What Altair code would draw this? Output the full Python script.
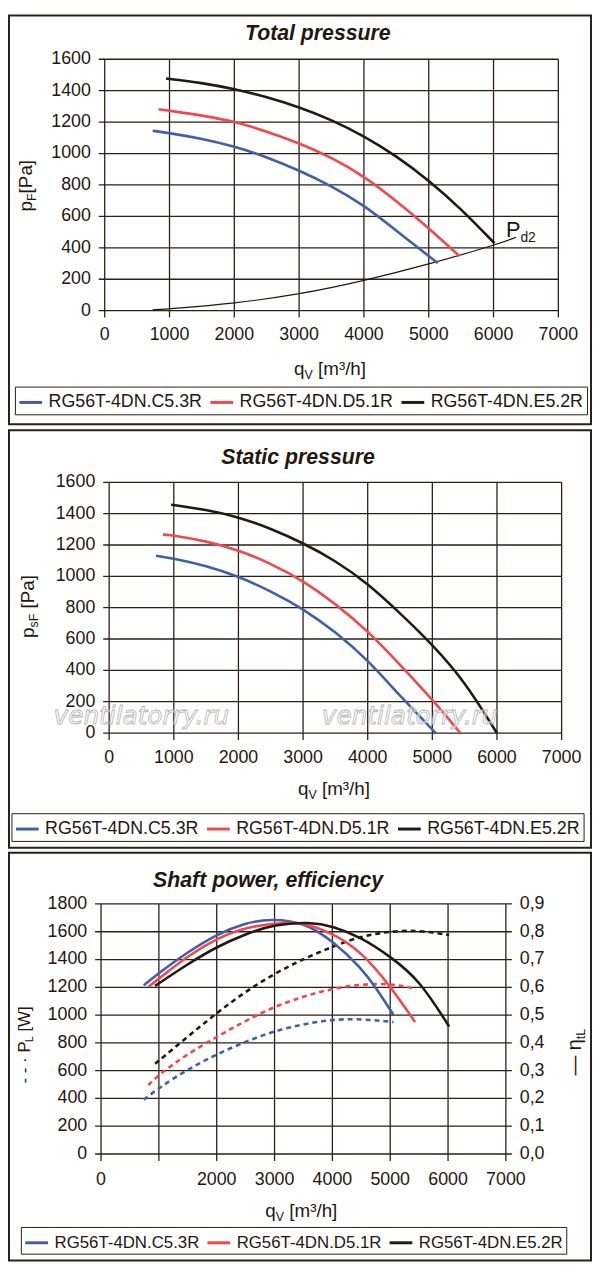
import altair as alt
import pandas as pd

FONT = "Liberation Sans"
TXT = "#1f1710"
GRID = "#2a2017"
FRAME = "#2a2017"

SERIES = ["RG56T-4DN.C5.3R", "RG56T-4DN.D5.1R", "RG56T-4DN.E5.2R"]
COLORS = ["#3f5fae", "#f4474b", "#221911"]

X_TICKS = [0, 1000, 2000, 3000, 4000, 5000, 6000, 7000]
X_TICKS_P3_LABELED = [0, 2000, 3000, 4000, 5000, 6000, 7000]
P_TICKS = [0, 200, 400, 600, 800, 1000, 1200, 1400, 1600]
W_TICKS = [0, 200, 400, 600, 800, 1000, 1200, 1400, 1600, 1800]
ETA_TICKS = [0.0, 0.1, 0.2, 0.3, 0.4, 0.5, 0.6, 0.7, 0.8, 0.9]
ETA_LABELS = ["0,0", "0,1", "0,2", "0,3", "0,4", "0,5", "0,6", "0,7", "0,8", "0,9"]

# ---- Total pressure ----
tot_q_c = [740, 1000, 1500, 2000, 2500, 3000, 3500, 4000, 4500, 5000, 5140]
tot_p_c = [1145, 1130, 1095, 1046, 978, 893, 794, 672, 509, 347, 303]
tot_q_d = [830, 1000, 1500, 2000, 2500, 3000, 3500, 4000, 4500, 5000, 5476]
tot_p_d = [1282, 1272, 1243, 1204, 1141, 1067, 975, 857, 699, 526, 347]
tot_q_e = [947, 1500, 2000, 2500, 3000, 3500, 4000, 4500, 5000, 5500, 6015]
tot_p_e = [1478, 1450, 1411, 1360, 1296, 1215, 1112, 985, 830, 648, 429]
pd2_q = [740, 1000, 2000, 3000, 4000, 5000, 6000, 6350]
pd2_p = [5, 12, 46, 103, 190, 295, 415, 467]

# ---- Static pressure ----
st_q_c = [725, 1000, 1500, 2000, 2500, 3000, 3500, 4000, 4500, 5053]
st_p_c = [1131, 1114, 1068, 1000, 906, 794, 646, 467, 236, 0]
st_q_d = [830, 1000, 1500, 2000, 2500, 3000, 3500, 4000, 4500, 5000, 5432]
st_p_d = [1267, 1261, 1225, 1168, 1082, 973, 825, 653, 436, 215, 0]
st_q_e = [959, 1500, 2000, 2500, 3000, 3500, 4000, 4500, 5000, 5500, 5998]
st_p_e = [1457, 1425, 1379, 1305, 1213, 1100, 955, 765, 565, 331, 0]

# ---- Efficiency (right axis) ----
eta_q_c = [739, 1000, 1500, 2000, 2500, 2931, 3500, 4000, 4500, 4750, 5057]
eta_v_c = [0.607, 0.652, 0.727, 0.791, 0.832, 0.847, 0.835, 0.768, 0.670, 0.600, 0.501]
eta_q_d = [818, 1000, 1500, 2000, 2500, 3225, 3500, 4000, 4500, 5000, 5430]
eta_v_d = [0.602, 0.631, 0.713, 0.776, 0.818, 0.835, 0.832, 0.796, 0.729, 0.605, 0.475]
eta_q_e = [935, 1500, 2000, 2500, 3000, 3618, 4000, 4500, 5000, 5500, 6019]
eta_v_e = [0.605, 0.684, 0.746, 0.792, 0.827, 0.835, 0.821, 0.780, 0.711, 0.628, 0.459]

# ---- Shaft power (left axis) ----
pw_q_c = [739, 1000, 1500, 2000, 2500, 3000, 3500, 4000, 4500, 5057]
pw_v_c = [390, 477, 610, 718, 810, 886, 935, 969, 973, 950]
pw_q_d = [818, 1000, 1500, 2000, 2500, 3000, 3500, 4000, 4500, 5000, 5430]
pw_v_d = [496, 572, 722, 843, 960, 1061, 1135, 1191, 1222, 1228, 1191]
pw_q_e = [935, 1500, 2000, 2500, 3000, 3500, 4000, 4500, 5000, 5500, 6019]
pw_v_e = [650, 845, 1016, 1170, 1299, 1405, 1493, 1569, 1604, 1611, 1576]

# Arial-like advance widths (em) for placing composed titles
CW = {" ": .278, "-": .333, "·": .278, "—": 1.0, "[": .278, "]": .278, "/": .278,
      "³": .333, "q": .556, "p": .556, "m": .833, "h": .556, "a": .556, "s": .5,
      "t": .278, "d": .556, "2": .556, "η": .556, "P": .667, "F": .611, "V": .667,
      "W": .944, "L": .556}


def tw(s, size):
    return sum(CW.get(ch, .556) for ch in s) * size


ONE = pd.DataFrame({"k": [0]})


def text_piece(text, x, y, size, angle=0, align="left", font=FONT, color=TXT, **kw):
    return alt.Chart(ONE).mark_text(
        text=text, align=align, baseline="alphabetic", angle=angle,
        fontSize=size, font=font, color=color, **kw
    ).encode(x=alt.value(x), y=alt.value(y))


def compose(pieces, x0, y0, vertical=False):
    out = []
    pos = 0.0
    for text, size, shift in pieces:
        lead = len(text) - len(text.lstrip(" "))
        pos += lead * CW[" "] * size
        t = text.lstrip(" ")
        if vertical:
            out.append(text_piece(t, x0 + shift, y0 - pos, size, angle=270))
        else:
            out.append(text_piece(t, x0 + pos, y0 + shift, size))
        pos += tw(t, size)
    return out


def frame(left, top, right, bottom, sw=2):
    return alt.Chart(ONE).mark_rect(
        fill="white", fillOpacity=0, stroke=FRAME, strokeWidth=sw
    ).encode(x=alt.value(left), x2=alt.value(right),
             y=alt.value(top), y2=alt.value(bottom))


def title(text, x, y):
    return text_piece(text, x, y, 21.5, align="center", fontWeight="bold",
                      fontStyle="italic")


def series_df(qs, vs):
    rows = []
    for name, q, v in zip(SERIES, qs, vs):
        for a, b in zip(q, v):
            rows.append({"series": name, "q": a, "v": b})
    return pd.DataFrame(rows)


def legend(x, y, size=18):
    return alt.Legend(title=None, orient="none", legendX=x, legendY=y,
                      direction="horizontal", symbolType="stroke", symbolSize=529,
                      symbolStrokeWidth=3, labelFont=FONT, labelFontSize=size,
                      labelColor=TXT, strokeColor=FRAME, fillColor="white",
                      padding=3, columnPadding=1, labelOffset=5)


def sx(x0, x1):
    return alt.Scale(domain=[0, 7000], range=[x0, x1], nice=False, zero=False)


def sy(top, bottom, vmax):
    return alt.Scale(domain=[0, vmax], range=[bottom, top], nice=False, zero=False)


def grid(xs, ys, yticks, ymax, right_ticks=False):
    xt = pd.DataFrame({"q": X_TICKS})
    yt = pd.DataFrame({"v": yticks})
    vlines = alt.Chart(xt).mark_rule(color=GRID, strokeWidth=1.3, y2Offset=7).encode(
        x=alt.X("q:Q", scale=xs, axis=None),
        y=alt.YDatum(ymax, scale=ys, axis=None),
        y2=alt.Y2Datum(0),
    )
    hkw = dict(color=GRID, strokeWidth=1.3, xOffset=-6)
    if right_ticks:
        hkw["x2Offset"] = 6
    hlines = alt.Chart(yt).mark_rule(**hkw).encode(
        y=alt.Y("v:Q", scale=ys, axis=None),
        x=alt.XDatum(0, scale=xs, axis=None),
        x2=alt.X2Datum(7000),
    )
    return [vlines, hlines]


def x_labels(xs, ys, values, dy=16):
    df = pd.DataFrame({"q": values, "lab": [str(v) for v in values]})
    return alt.Chart(df).mark_text(baseline="top", align="center", dy=dy, fontSize=18,
                                   font=FONT, color=TXT).encode(
        x=alt.X("q:Q", scale=xs, axis=None),
        y=alt.YDatum(0, scale=ys, axis=None),
        text="lab:N",
    )


def y_labels(xs, ys, values, labels, at=0, dx=-14, align="right"):
    df = pd.DataFrame({"v": values, "lab": labels})
    return alt.Chart(df).mark_text(baseline="middle", align=align, dx=dx, fontSize=18,
                                   font=FONT, color=TXT).encode(
        y=alt.Y("v:Q", scale=ys, axis=None),
        x=alt.XDatum(at, scale=xs, axis=None),
        text="lab:N",
    )


def lines(df, xs, ys, leg, **mk):
    return alt.Chart(df).mark_line(interpolate="basis", strokeWidth=2.6, **mk).encode(
        x=alt.X("q:Q", scale=xs, axis=None),
        y=alt.Y("v:Q", scale=ys, axis=None),
        color=alt.Color("series:N", scale=alt.Scale(domain=SERIES, range=COLORS),
                        legend=leg),
    )


# view coordinates = page coordinates - 8
# =============== Panel 1: Total pressure ===============
XS1 = sx(97.7, 556.0)
YS1 = sy(45.3, 299.3, 1600)
tot_df = series_df([tot_q_c, tot_q_d, tot_q_e], [tot_p_c, tot_p_d, tot_p_e])
pd2_df = pd.DataFrame({"q": pd2_q, "v": pd2_p})

panel1 = [
    *grid(XS1, YS1, P_TICKS, 1600),
    x_labels(XS1, YS1, X_TICKS),
    y_labels(XS1, YS1, P_TICKS, [str(v) for v in P_TICKS]),
    alt.Chart(pd2_df).mark_line(interpolate="basis", strokeWidth=1.2, color=TXT).encode(
        x=alt.X("q:Q", scale=XS1, axis=None), y=alt.Y("v:Q", scale=YS1, axis=None)),
    lines(tot_df, XS1, YS1, legend(7, 376)),
    *compose([("P", 22, 0), ("d2", 14, 5)], 503, 225),
    title("Total pressure", 313, 26),
    *compose([("q", 19, 0), ("V", 12.5, 4), (" [m³/h]", 19, 0)], 289, 363.9),
    *compose([("p", 19, 0), ("F", 12.5, 4), ("[Pa]", 19, 0)], 24, 199, vertical=True),
    frame(1, 1, 589, 414),
]

# =============== Panel 2: Static pressure ===============
XS2 = sx(102.2, 559.3)
YS2 = sy(472.7, 726.0, 1600)
st_df = series_df([st_q_c, st_q_d, st_q_e], [st_p_c, st_p_d, st_p_e])
wm_kw = dict(fontStyle="italic", fill="white", fillOpacity=0.55,
             stroke="#b4b4b4", strokeWidth=0.8)

panel2 = [
    *grid(XS2, YS2, P_TICKS, 1600),
    x_labels(XS2, YS2, X_TICKS),
    y_labels(XS2, YS2, P_TICKS, [str(v) for v in P_TICKS]),
    lines(st_df, XS2, YS2, legend(3.5, 807)),
    text_piece("ventilatorry.ru", 46, 717, 25, font="DejaVu Sans", color="white", **wm_kw),
    text_piece("ventilatorry.ru", 317, 717, 25, font="DejaVu Sans", color="white", **wm_kw),
    title("Static pressure", 293, 453.7),
    *compose([("q", 19, 0), ("V", 12.5, 4), (" [m³/h]", 19, 0)], 293, 789),
    *compose([("p", 19, 0), ("sF", 12.5, 4), (" [Pa]", 19, 0)], 26, 630, vertical=True),
    frame(1, 420, 589, 842),
]

# =============== Panel 3: Shaft power, efficiency ===============
XS3 = sx(94.0, 503.0)
YW3 = sy(898.7, 1151.3, 1800)
YE3 = sy(898.7, 1151.3, 0.9)
pw_df = series_df([pw_q_c, pw_q_d, pw_q_e], [pw_v_c, pw_v_d, pw_v_e])
eta_df = series_df([eta_q_c, eta_q_d, eta_q_e], [eta_v_c, eta_v_d, eta_v_e])

panel3 = [
    *grid(XS3, YW3, W_TICKS, 1800, right_ticks=True),
    x_labels(XS3, YW3, X_TICKS_P3_LABELED, dy=17),
    y_labels(XS3, YW3, W_TICKS, [str(v) for v in W_TICKS]),
    y_labels(XS3, YE3, ETA_TICKS, ETA_LABELS, at=7000, dx=14, align="left"),
    lines(pw_df, XS3, YW3, None, strokeDash=[5, 4]),
    lines(eta_df, XS3, YE3, legend(13, 1225, 17)),
    title("Shaft power, efficiency", 262.8, 882),
    *compose([("q", 19, 0), ("V", 12.5, 4), (" [m³/h]", 19, 0)], 260, 1215),
    *compose([("- - · P", 17, 0), ("L", 11, 3), (" [W]", 17, 0)], 22, 1080, vertical=True),
    *compose([("— η", 20, 0), ("tL", 12.5, 4)], 579, 1072, vertical=True),
    frame(1, 847, 589, 1259),
]

chart = alt.layer(*panel1, *panel2, *panel3).resolve_scale(
    x="independent", y="independent", color="independent"
).properties(
    width=590, height=1262, padding=0, background="white",
    autosize=alt.AutoSizeParams(type="none")
).configure_view(stroke="transparent")

chart.save("out.html", embed_options={"renderer": "svg", "actions": False})
